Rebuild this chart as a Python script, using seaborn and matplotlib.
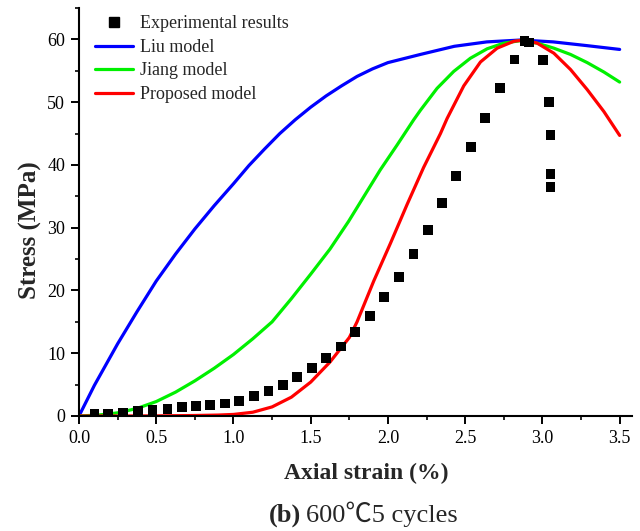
import numpy as np
import pandas as pd
import matplotlib
matplotlib.use("Agg")
import matplotlib.pyplot as plt
from matplotlib.ticker import MultipleLocator, FormatStrFormatter
from matplotlib.lines import Line2D
import seaborn as sns

# Experimental stress-strain points (600 °C, 5 cycles)
exp_strain = [0.10, 0.19, 0.287, 0.384, 0.476, 0.573, 0.666, 0.757, 0.85, 0.945,
              1.038, 1.132, 1.227, 1.320, 1.413, 1.508, 1.601, 1.696, 1.789, 1.882,
              1.977, 2.070, 2.165, 2.258, 2.351, 2.443, 2.539, 2.631, 2.727, 2.819,
              2.884, 2.912, 3.005, 3.042, 3.052, 3.052, 3.052]
exp_stress = [0.27, 0.35, 0.5, 0.75, 0.95, 1.15, 1.45, 1.6, 1.78, 2.0,
              2.45, 3.14, 3.93, 5.0, 6.17, 7.6, 9.2, 11.06, 13.35, 15.95,
              18.93, 22.17, 25.8, 29.67, 33.92, 38.2, 42.8, 47.5, 52.2, 56.8,
              59.7, 59.5, 56.7, 50.0, 44.8, 38.6, 36.5]

# Liu model
liu_strain = [0, 0.1, 0.25, 0.375, 0.5, 0.625, 0.75, 0.875, 1.0, 1.1, 1.2, 1.3,
              1.4, 1.5, 1.6, 1.7, 1.8, 1.9, 2.0, 2.21, 2.43, 2.64, 2.86, 3.07,
              3.29, 3.5]
liu_stress = [0, 4.9, 11.5, 16.6, 21.5, 25.8, 29.8, 33.5, 37.0, 39.9, 42.5, 45.0,
              47.2, 49.2, 51.0, 52.6, 54.1, 55.3, 56.3, 57.6, 58.9, 59.6, 59.9, 59.6,
              59.0, 58.4]

# Jiang model
jiang_strain = [0, 0.125, 0.25, 0.375, 0.5, 0.625, 0.75, 0.875, 1.0, 1.125, 1.25,
                1.375, 1.5, 1.625, 1.745, 1.85, 1.95, 2.06, 2.167, 2.21, 2.318,
                2.426, 2.534, 2.642, 2.75, 2.858, 2.966, 3.074, 3.182, 3.29, 3.398, 3.5]
jiang_stress = [0, 0.15, 0.5, 1.2, 2.3, 3.8, 5.6, 7.6, 9.8, 12.3, 15.0,
                18.7, 22.6, 26.6, 31.0, 35.2, 39.2, 43.2, 47.2, 48.7, 52.2,
                54.9, 57.0, 58.5, 59.4, 59.8, 59.4, 58.6, 57.6, 56.3, 54.8, 53.2]

# Proposed model
prop_strain = [0, 0.25, 0.5, 0.75, 0.9, 1.0, 1.125, 1.25, 1.375, 1.5, 1.625, 1.75,
               1.8, 1.908, 2.016, 2.124, 2.231, 2.34, 2.383, 2.491, 2.599, 2.707,
               2.815, 2.88, 2.966, 3.074, 3.182, 3.29, 3.398, 3.5]
prop_stress = [0, 0.0, 0.02, 0.08, 0.15, 0.25, 0.6, 1.45, 3.0, 5.4, 8.6, 12.5,
               15.0, 21.5, 27.5, 33.7, 39.6, 45.0, 47.4, 52.6, 56.4, 58.6,
               59.7, 59.9, 59.4, 57.8, 55.2, 52.0, 48.5, 44.7]

exp_df = pd.DataFrame({"strain": exp_strain, "stress": exp_stress})
liu_df = pd.DataFrame({"strain": liu_strain, "stress": liu_stress})
jiang_df = pd.DataFrame({"strain": jiang_strain, "stress": jiang_stress})
prop_df = pd.DataFrame({"strain": prop_strain, "stress": prop_stress})

sns.set_theme(style="ticks")
plt.rcParams["font.family"] = ["Liberation Serif", "Noto Sans CJK SC", "DejaVu Sans"]
plt.rcParams["axes.linewidth"] = 1.5

fig = plt.figure(figsize=(6.4, 5.31), dpi=100)
ax = fig.add_axes([79 / 640, 1 - 416 / 531, (632 - 79) / 640, (416 - 8) / 531])

BLUE, GREEN, RED = "#0000ff", "#00f000", "#ff0000"
lw = 2.3
sns.lineplot(data=liu_df, x="strain", y="stress", ax=ax, color=BLUE,
             linewidth=lw, sort=False, zorder=2)
sns.lineplot(data=jiang_df, x="strain", y="stress", ax=ax, color=GREEN,
             linewidth=lw, sort=False, zorder=2)
sns.lineplot(data=prop_df, x="strain", y="stress", ax=ax, color=RED,
             linewidth=lw, sort=False, zorder=2)
sns.scatterplot(data=exp_df, x="strain", y="stress", ax=ax, marker="s", s=50,
                color="black", edgecolor="none", zorder=3)

ax.set_xlim(0, 3.58)
ax.set_ylim(0, 65)
ax.xaxis.set_major_locator(MultipleLocator(0.5))
ax.xaxis.set_minor_locator(MultipleLocator(0.25))
ax.yaxis.set_major_locator(MultipleLocator(10))
ax.yaxis.set_minor_locator(MultipleLocator(5))
ax.xaxis.set_major_formatter(FormatStrFormatter("%.1f"))
ax.tick_params(which="major", direction="out", length=5.5, width=1.4,
               labelsize=13, colors="black", pad=4.5)
ax.tick_params(which="minor", direction="out", length=3, width=1.4)
for side in ("top", "right"):
    ax.spines[side].set_visible(False)
for side in ("left", "bottom"):
    ax.spines[side].set_color("black")

ax.set_xlabel("Axial strain (%)", fontsize=17, fontweight="bold")
ax.set_ylabel("Stress (MPa)", fontsize=18, fontweight="bold")
ax.xaxis.set_label_coords((366 - 79) / 553, (416 - 473) / 408)
ax.yaxis.set_label_coords((30 - 79) / 553, (416 - 230) / 408)
ax.xaxis.label.set_va("center")
ax.yaxis.label.set_va("center")

handles = [
    Line2D([], [], linestyle="none", marker="s", markersize=7, color="black"),
    Line2D([], [], color=BLUE, linewidth=lw),
    Line2D([], [], color=GREEN, linewidth=lw),
    Line2D([], [], color=RED, linewidth=lw),
]
labels = ["Experimental results", "Liu model", "Jiang model", "Proposed model"]
ax.legend(handles, labels, loc="upper left", bbox_to_anchor=(0.029, 0.982),
          frameon=False, fontsize=13, handlelength=2.1, handletextpad=0.4,
          labelspacing=0.36, borderpad=0, borderaxespad=0)

fig.text(301 / 640, 1 - 522 / 531, "(b)", ha="right", va="baseline",
         fontsize=19, fontweight="bold")
fig.text(306 / 640, 1 - 522 / 531, "600℃5 cycles", ha="left", va="baseline",
         fontsize=19)

fig.savefig("out.png", dpi=100)
